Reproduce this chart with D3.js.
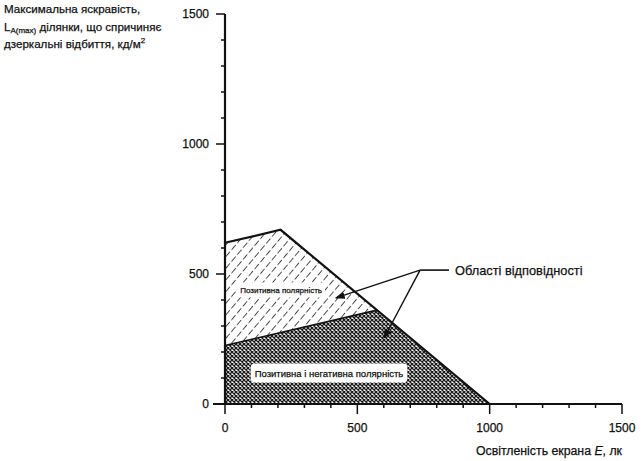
<!DOCTYPE html>
<html><head><meta charset="utf-8">
<script src="https://cdn.jsdelivr.net/npm/d3@7"></script>
<style>body{margin:0;background:#fff}svg{display:block}text{font-family:"Liberation Sans",Arial,sans-serif;fill:#111;stroke:#111;stroke-width:0.25}</style>
</head><body>
<svg id="c" width="642" height="461"></svg>
<script>
// Data (E in lx, L in cd/m²)
const upperRegion = [[0,620],[210,670],[1000,0],[0,0]];      // positive polarity
const lowerRegion = [[0,0],[0,225],[570,360],[1000,0]];        // positive & negative
const outline = [[0,620],[210,670],[1000,0]];
const lowerEdge = [[0,225],[570,360]];
const xTicks = [0,500,1000,1500];
const yTicks = [0,500,1000,1500];
const minorTicks = d3.range(0,1501,100);
const labelUpper = {x:212, y:438, text:"Позитивна полярність"};
const labelLower = {x:393, y:119, text:"Позитивна і негативна полярність"};
const callout = {label:"Області відповідності", lx:869, ly:515, vx:737, vy:515,
  tips:[[419,408],[601,254]]};

const svg = d3.select("#c");
const x = d3.scaleLinear().domain([0,1500]).range([225,622]);
const y = d3.scaleLinear().domain([0,1500]).range([404,14]);

const defs = svg.append("defs");
const p1 = defs.append("pattern").attr("id","diag").attr("patternUnits","userSpaceOnUse")
  .attr("width",7.5).attr("height",9).attr("patternTransform","rotate(40)");
p1.append("line").attr("x1",0).attr("y1",0).attr("x2",0).attr("y2",9)
  .attr("stroke","#111").attr("stroke-width",1.5).attr("stroke-dasharray","6.5 2.5");
const p2 = defs.append("pattern").attr("id","cross").attr("patternUnits","userSpaceOnUse")
  .attr("width",4).attr("height",4);
p2.append("rect").attr("width",4).attr("height",4).attr("fill","#fff");
p2.append("path").attr("d","M0,0L4,4M4,0L0,4").attr("stroke","#1a1a1a").attr("stroke-width",1.3);
defs.append("marker").attr("id","arr").attr("viewBox","0 0 10 10").attr("refX",9).attr("refY",5)
  .attr("markerWidth",7).attr("markerHeight",7).attr("orient","auto")
  .append("path").attr("d","M0,1L10,5L0,9Z").attr("fill","#111");

const line = d3.line().x(d=>x(d[0])).y(d=>y(d[1]));

svg.append("path").attr("d",line(upperRegion)+"Z").attr("fill","url(#diag)");
svg.append("path").attr("d",line(lowerRegion)+"Z").attr("fill","url(#cross)");
svg.append("path").attr("d",line(lowerEdge)).attr("fill","none").attr("stroke","#111").attr("stroke-width",1.6);
svg.append("path").attr("d",line(outline)).attr("fill","none").attr("stroke","#111").attr("stroke-width",2.2);

// labels in regions
function boxLabel(l, fs, padx, pady){
  const g = svg.append("g");
  const t = g.append("text").attr("x",x(l.x)).attr("y",y(l.y)).attr("text-anchor","middle")
    .attr("dominant-baseline","central").attr("font-size",fs).text(l.text);
  const b = t.node().getBBox();
  g.insert("rect","text").attr("x",b.x-padx).attr("y",b.y-pady).attr("width",b.width+2*padx)
    .attr("height",b.height+2*pady).attr("rx",4).attr("fill","#fff");
}
boxLabel(labelUpper, 8, 3, 3);
boxLabel(labelLower, 9.5, 4, 4);

// axes
const ax = svg.append("g").attr("stroke","#111").attr("fill","none");
ax.append("line").attr("x1",x(0)).attr("x2",x(0)).attr("y1",y(1500)).attr("y2",y(0)+1).attr("stroke-width",2.2);
ax.append("line").attr("x1",x(0)-12).attr("x2",x(1500)).attr("y1",y(0)).attr("y2",y(0)).attr("stroke-width",2.2);
minorTicks.forEach(v=>{
  const major = v%500===0;
  ax.append("line").attr("x1",x(0)).attr("x2",x(0)-(major?9:4)).attr("y1",y(v)).attr("y2",y(v)).attr("stroke-width",1.5);
  ax.append("line").attr("x1",x(v)).attr("x2",x(v)).attr("y1",y(0)).attr("y2",y(0)+(major?10:4)).attr("stroke-width",1.5);
});
svg.selectAll(".yl").data(yTicks).join("text").attr("x",209).attr("y",d=>y(d)).attr("text-anchor","end")
  .attr("dominant-baseline","central").attr("font-size",12).text(d=>d);
svg.selectAll(".xl").data(xTicks).join("text").attr("x",d=>x(d)).attr("y",432).attr("text-anchor","middle")
  .attr("font-size",12).text(d=>d);

// axis titles
const yt = svg.append("text").attr("font-size",11.6);
yt.append("tspan").attr("x",4).attr("y",13).text("Максимальна яскравість,");
const t2 = svg.append("text").attr("font-size",11.6).attr("x",4).attr("y",31);
t2.append("tspan").text("L");
t2.append("tspan").attr("font-size",8).attr("dy",2).text("A(max)");
t2.append("tspan").attr("dy",-2).text(" ділянки, що спричиняє");
const t3 = svg.append("text").attr("font-size",11.6).attr("x",4).attr("y",48);
t3.append("tspan").text("дзеркальні відбиття, кд/м");
t3.append("tspan").attr("font-size",8).attr("dy",-5).text("2");
const xt = svg.append("text").attr("font-size",12.3).attr("x",622).attr("y",455).attr("text-anchor","end");
xt.append("tspan").text("Освітленість екрана ");
xt.append("tspan").attr("font-style","italic").text("E");
xt.append("tspan").text(", лк");

// callout
svg.append("text").attr("x",455).attr("y",y(callout.ly)).attr("dominant-baseline","central")
  .attr("font-size",12.8).text(callout.label);
svg.append("line").attr("x1",449).attr("x2",x(callout.vx)).attr("y1",y(callout.ly)).attr("y2",y(callout.vy))
  .attr("stroke","#111").attr("stroke-width",1.6);
callout.tips.forEach(t=>{
  svg.append("line").attr("x1",x(callout.vx)).attr("y1",y(callout.vy)).attr("x2",x(t[0])).attr("y2",y(t[1]))
    .attr("stroke","#111").attr("stroke-width",1.4).attr("marker-end","url(#arr)");
});
</script>
</body></html>
